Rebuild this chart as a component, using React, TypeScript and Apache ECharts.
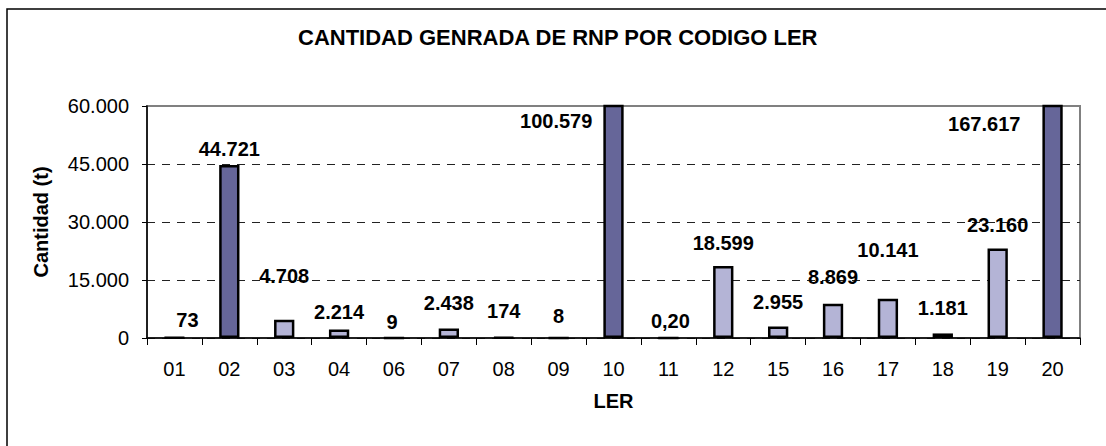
import React, { useEffect, useRef } from 'react';
import * as echarts from 'echarts';

const categories = ['01', '02', '03', '04', '06', '07', '08', '09', '10', '11', '12', '15', '16', '17', '18', '19', '20'];
const quantities = [73, 44721, 4708, 2214, 9, 2438, 174, 8, 100579, 0.2, 18599, 2955, 8869, 10141, 1181, 23160, 167617];
const highlightedCodes = ['02', '10', '20'];
const yMin = 0;
const yMax = 60000;
const yInterval = 15000;

const titleText = 'CANTIDAD GENRADA DE RNP POR CODIGO LER';
const yName = 'Cantidad (t)';
const xName = 'LER';

// label placement tweaks (styling only)
const labelOffsets: Record<string, [number, number]> = {
  '01': [13, -2], '02': [0, -1], '03': [0, -29], '04': [0, -2], '06': [-2, 0],
  '07': [0, -11], '08': [0, -10], '09': [0, -6], '11': [2, -1], '12': [0, -8],
  '15': [0, -10], '16': [0, -12], '17': [0, -34], '18': [0, -10], '19': [0, -8],
};
const overflowLabelPos: Record<string, [number, number]> = { '10': [-11, 16], '20': [-22, 19] };

const FONT = "'Liberation Sans', Arial, Helvetica, sans-serif";
const DARK = '#666699';
const LIGHT = '#B4B4D6';

function fmt(v: number): string {
  const intPart = Math.floor(v);
  const s = String(intPart).replace(/\B(?=(\d{3})+(?!\d))/g, '.');
  if (Number.isInteger(v)) return s;
  return s + ',' + v.toFixed(2).split('.')[1];
}

export default function App() {
  const ref = useRef<HTMLDivElement>(null);
  useEffect(() => {
    if (!ref.current) return;
    const chart = echarts.init(ref.current, undefined, { renderer: 'svg' });
    chart.setOption({
      animation: false,
      backgroundColor: '#ffffff',
      title: {
        text: titleText,
        left: 298,
        top: 26,
        padding: 0,
        textStyle: { fontFamily: FONT, fontSize: 22, fontWeight: 'bold', color: '#000' },
      },
      graphic: [
        {
          type: 'rect',
          silent: true,
          shape: { x: 7, y: 9, width: 1300, height: 700 },
          style: { fill: 'none', stroke: '#000', lineWidth: 1.5 },
        },
      ],
      grid: {
        left: 147,
        right: 26,
        top: 106,
        bottom: 108,
        show: true,
        borderColor: '#808080',
        borderWidth: 2,
        backgroundColor: 'transparent',
      },
      xAxis: {
        type: 'category',
        data: categories,
        name: xName,
        nameLocation: 'middle',
        nameGap: 53,
        nameTextStyle: { fontFamily: FONT, fontSize: 20, fontWeight: 'bold', color: '#000', lineHeight: 20 },
        axisLine: { lineStyle: { color: '#000', width: 1.5 } },
        axisTick: { show: true, length: 7, lineStyle: { color: '#000', width: 1 } },
        axisLabel: { fontFamily: FONT, fontSize: 20, color: '#000', margin: 21, lineHeight: 20, interval: 0 },
        splitLine: { show: false },
      },
      yAxis: {
        type: 'value',
        min: yMin,
        max: yMax,
        interval: yInterval,
        name: yName,
        nameLocation: 'middle',
        nameGap: 96,
        nameTextStyle: { fontFamily: FONT, fontSize: 20, fontWeight: 'bold', color: '#000', lineHeight: 20 },
        axisLine: { show: true, lineStyle: { color: '#000', width: 1.5 } },
        axisTick: { show: true, length: 5, lineStyle: { color: '#000', width: 1 } },
        axisLabel: { fontFamily: FONT, fontSize: 20, color: '#000', margin: 18, formatter: (v: number) => fmt(v) },
        splitLine: {
          show: true,
          showMaxLine: false,
          lineStyle: { color: '#222', width: 1, type: [8, 7] },
        },
      },
      series: [
        {
          type: 'bar',
          barWidth: '37%',
          clip: true,
          itemStyle: { borderColor: '#000', borderWidth: 2.5 },
          label: {
            show: true,
            position: 'top',
            distance: 5,
            fontFamily: FONT,
            fontSize: 20,
            lineHeight: 20,
            fontWeight: 'bold',
            color: '#000',
            formatter: (p: any) => fmt(p.value),
          },
          data: quantities.map((v, i) => {
            const cat = categories[i];
            const dark = highlightedCodes.includes(cat);
            const over = overflowLabelPos[cat];
            return {
              value: v,
              itemStyle: { color: dark ? DARK : LIGHT },
              label: over
                ? { position: over, align: 'right', verticalAlign: 'middle' }
                : { position: 'top', offset: labelOffsets[cat] || [0, 0] },
            };
          }),
        },
      ],
    });
    return () => chart.dispose();
  }, []);
  return (
    <div
      ref={ref}
      style={{ position: 'absolute', left: 0, top: 0, width: 1106, height: 446, background: '#fff' }}
    />
  );
}
